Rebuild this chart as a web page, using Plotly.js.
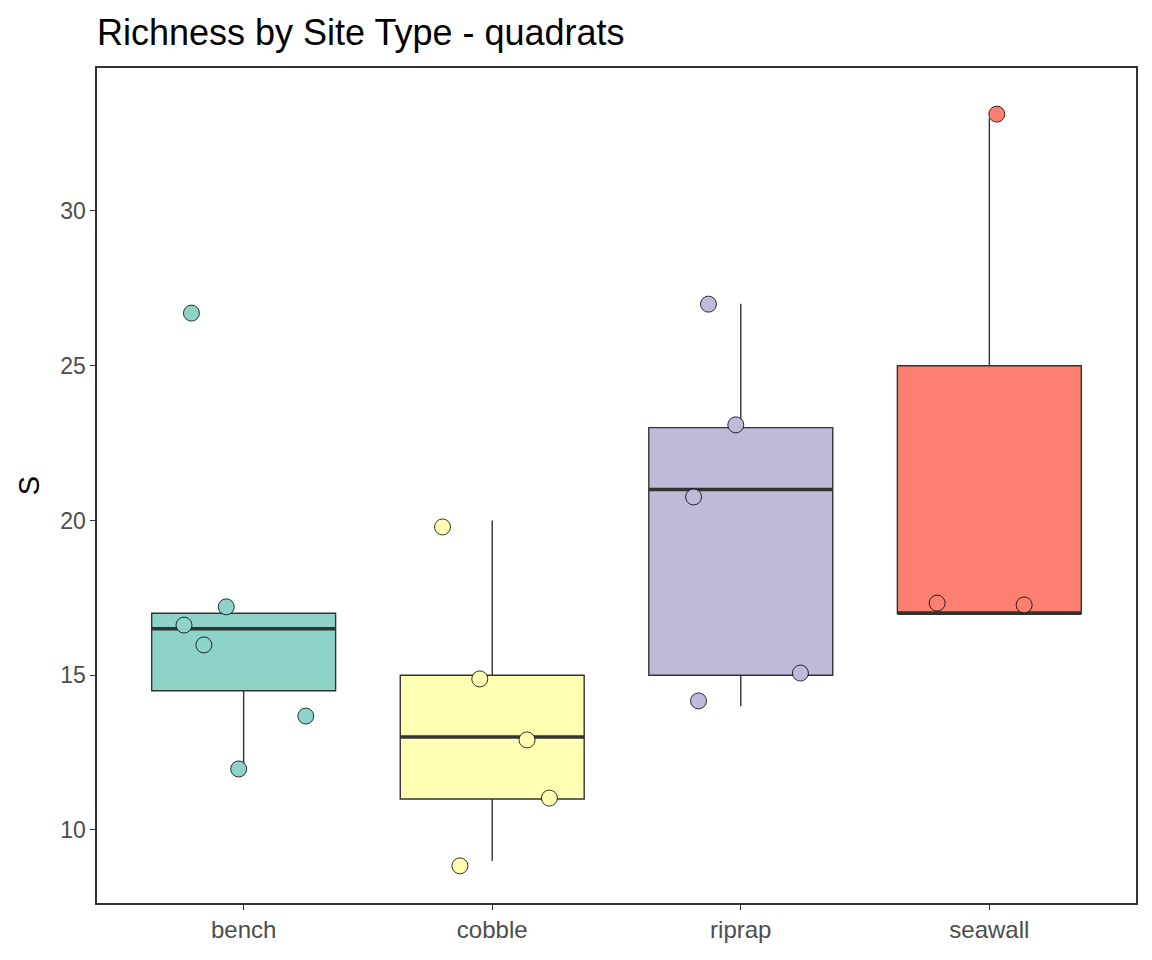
<!DOCTYPE html>
<html>
<head>
<meta charset="utf-8">
<script src="https://cdn.plot.ly/plotly-3.0.1.min.js"></script>
<style>body{margin:0;background:#fff}</style>
</head>
<body>
<div id="chart" style="width:1152px;height:960px"></div>
<script>
// categories and colours
const sites = ['bench', 'cobble', 'riprap', 'seawall'];
const fills = ['#8DD3C7', '#FFFFB3', '#BEBADA', '#FB8072'];

// box stats
const q1 = [14.5, 11, 15, 17];
const med = [16.5, 13, 21, 17];
const q3 = [17, 15, 23, 25];
const lowF = [12, 9, 14, 17];
const upF = [17, 20, 27, 33];

// jittered points: site index, x offset, value
const ptSite = [0, 0, 0, 0, 0, 0, 1, 1, 1, 1, 1, 2, 2, 2, 2, 2, 3, 3, 3];
const ptJit = [-0.21, -0.24, -0.16, -0.07, 0.25, -0.02, -0.20, -0.05, 0.14, 0.23, -0.13, -0.13, -0.02, -0.19, 0.24, -0.17, 0.03, -0.21, 0.14];
const ptVal = [26.7, 16.62, 15.98, 17.21, 13.68, 11.97, 19.79, 14.88, 12.91, 11.03, 8.84, 26.99, 23.09, 20.76, 15.07, 14.17, 33.13, 17.33, 17.27];

const boxW = 0.74;
var data = [];

sites.forEach(function (s, i) {
  data.push({
    type: 'box',
    x: [i],
    q1: [q1[i]], median: [med[i]], q3: [q3[i]],
    lowerfence: [lowF[i]], upperfence: [upF[i]],
    width: boxW,
    whiskerwidth: 0,
    fillcolor: fills[i],
    line: { color: '#333333', width: 1.4 },
    boxpoints: false,
    hoverinfo: 'skip',
    showlegend: false
  });
  // thick median line
  data.push({
    type: 'scatter', mode: 'lines',
    x: [i - boxW / 2, i + boxW / 2], y: [med[i], med[i]],
    line: { color: '#333333', width: 3.5 },
    hoverinfo: 'skip', showlegend: false
  });
});

data.push({
  type: 'scatter', mode: 'markers',
  x: ptSite.map(function (s, k) { return s + ptJit[k]; }),
  y: ptVal,
  marker: {
    size: 16,
    color: ptSite.map(function (s) { return fills[s]; }),
    line: { color: '#000000', width: 0.8 }
  },
  showlegend: false
});

var layout = {
  width: 1152, height: 960,
  paper_bgcolor: '#ffffff', plot_bgcolor: '#ffffff',
  margin: { l: 97, r: 16, t: 68, b: 57 },
  title: {
    text: 'Richness by Site Type - quadrats',
    font: { family: 'Liberation Sans, Arial, sans-serif', size: 36, color: '#000' },
    x: 0, xref: 'paper', xanchor: 'left', y: 0.966, yanchor: 'middle'
  },
  xaxis: {
    range: [-0.59, 3.59],
    tickmode: 'array', tickvals: [0, 1, 2, 3], ticktext: sites,
    showgrid: false, zeroline: false,
    showline: true, mirror: true, linecolor: '#333333', linewidth: 1.6,
    ticks: 'outside', ticklen: 5, tickcolor: '#333333',
    tickfont: { family: 'Liberation Sans, Arial, sans-serif', size: 24, color: '#4d4d4d' }
  },
  yaxis: {
    range: [7.64, 34.62],
    tickvals: [10, 15, 20, 25, 30],
    showgrid: false, zeroline: false,
    showline: true, mirror: true, linecolor: '#333333', linewidth: 1.6,
    ticks: 'outside', ticklen: 5, tickcolor: '#333333',
    tickfont: { family: 'Liberation Sans, Arial, sans-serif', size: 23, color: '#4d4d4d' },
    title: { text: 'S', standoff: 12, font: { family: 'Liberation Sans, Arial, sans-serif', size: 29, color: '#000' } }
  }
};

Plotly.newPlot('chart', data, layout, { staticPlot: true, displayModeBar: false });
</script>
</body>
</html>
